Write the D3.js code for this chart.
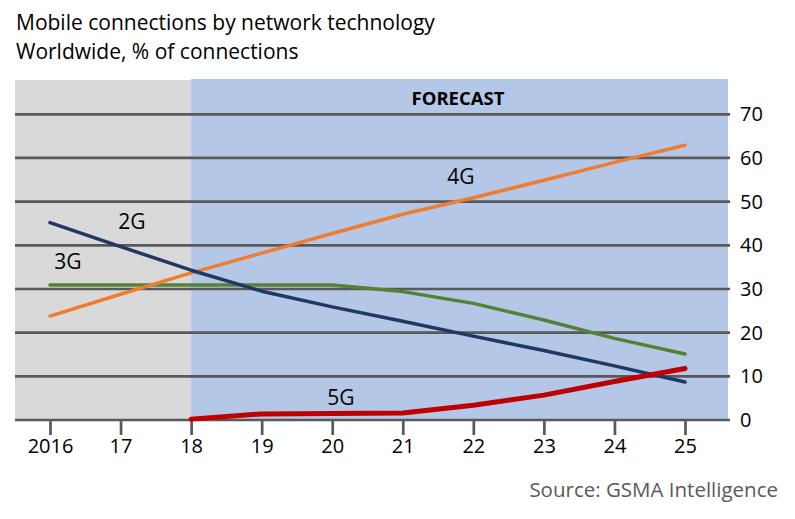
<!DOCTYPE html>
<html>
<head>
<meta charset="utf-8">
<script src="https://cdn.jsdelivr.net/npm/d3@7"></script>
<style>
  body { margin: 0; background: #fff; }
  text { font-family: "Open Sans", sans-serif; }
</style>
</head>
<body>
<div id="chart"></div>
<script>
// data
var years = [2016, 2017, 2018, 2019, 2020, 2021, 2022, 2023, 2024, 2025];
var yearLabels = ["2016", "17", "18", "19", "20", "21", "22", "23", "24", "25"];
var yTicks = [0, 10, 20, 30, 40, 50, 60, 70];

var g2 = [45.2, 39.7, 34.3, 29.5, 25.9, 22.6, 19.2, 15.9, 12.4, 8.7];
var g3 = [30.9, 30.9, 30.9, 30.9, 30.9, 29.4, 26.7, 22.9, 18.7, 15.1];
var g4 = [23.8, 28.8, 33.7, 38.2, 42.7, 47.1, 50.9, 54.9, 59.0, 62.9];
var g5 = [null, null, 0.2, 1.4, 1.5, 1.6, 3.4, 5.7, 8.8, 11.8];

var W = 795, H = 519;

var svg = d3.select("#chart").append("svg")
  .attr("width", W)
  .attr("height", H);

var x = d3.scaleLinear().domain([2016, 2025]).range([50, 685]);
var y = d3.scaleLinear().domain([0, 70]).range([420, 114.3]);

var plotLeft = 15, plotRight = 730, plotTop = 80;

// background panels: history (grey) and forecast (blue)
svg.append("rect")
  .attr("x", plotLeft).attr("y", plotTop)
  .attr("width", x(2018) - plotLeft).attr("height", y(0) - plotTop)
  .attr("fill", "#d9d9d9");

svg.append("rect")
  .attr("x", x(2018)).attr("y", plotTop - 1)
  .attr("width", 728 - x(2018)).attr("height", y(0) - plotTop + 1)
  .attr("fill", "#b4c7e7");

// gridlines
svg.selectAll(".grid")
  .data(yTicks)
  .enter().append("line")
  .attr("x1", plotLeft).attr("x2", plotRight)
  .attr("y1", function(d) { return y(d); })
  .attr("y2", function(d) { return y(d); })
  .attr("stroke", "#595959")
  .attr("stroke-width", 2.7);

// right axis labels
var yAxis = d3.axisRight(y).tickValues(yTicks).tickSize(0).tickPadding(0);
var ya = svg.append("g").attr("transform", "translate(740,0)").call(yAxis);
ya.select(".domain").remove();
ya.selectAll("text")
  .attr("font-size", 20)
  .attr("fill", "#000")
  .style("font-family", "'Open Sans', sans-serif");

// bottom axis ticks + labels
var xAxis = d3.axisBottom(x).tickValues(years)
  .tickFormat(function(d, i) { return yearLabels[i]; })
  .tickSize(15).tickPadding(4);
var xa = svg.append("g").attr("transform", "translate(0," + y(0) + ")").call(xAxis);
xa.select(".domain").remove();
xa.selectAll("line").attr("stroke", "#595959").attr("stroke-width", 2.7);
xa.selectAll("text")
  .attr("font-size", 20)
  .attr("fill", "#000")
  .style("font-family", "'Open Sans', sans-serif");

// lines
var line = d3.line()
  .defined(function(d) { return d != null; })
  .x(function(d, i) { return x(years[i]); })
  .y(function(d) { return y(d); });

var series = [
  { vals: g3, color: "#548235", width: 3.5 },
  { vals: g4, color: "#ed7d31", width: 3.5 },
  { vals: g2, color: "#1f3864", width: 3.5 },
  { vals: g5, color: "#c00000", width: 5 }
];

series.forEach(function(s) {
  svg.append("path")
    .datum(s.vals)
    .attr("d", line)
    .attr("fill", "none")
    .attr("stroke", s.color)
    .attr("stroke-width", s.width)
    .attr("stroke-linecap", "round")
    .attr("stroke-linejoin", "round");
});

// series labels
var labels = [
  { t: "2G", x: 132, y: 229 },
  { t: "3G", x: 68, y: 269 },
  { t: "4G", x: 461, y: 184 },
  { t: "5G", x: 341, y: 405 }
];
svg.selectAll(".lab")
  .data(labels)
  .enter().append("text")
  .attr("x", function(d) { return d.x; })
  .attr("y", function(d) { return d.y; })
  .attr("text-anchor", "middle")
  .attr("font-size", 21)
  .attr("fill", "#000")
  .text(function(d) { return d.t; });

svg.append("text")
  .attr("x", 458).attr("y", 105)
  .attr("text-anchor", "middle")
  .attr("font-size", 18.5)
  .attr("font-weight", "bold")
  .attr("fill", "#000")
  .text("FORECAST");

// titles
svg.append("text")
  .attr("x", 16).attr("y", 30)
  .attr("font-size", 21)
  .attr("fill", "#000")
  .text("Mobile connections by network technology");

svg.append("text")
  .attr("x", 16).attr("y", 59)
  .attr("font-size", 21)
  .attr("fill", "#000")
  .text("Worldwide, % of connections");

svg.append("text")
  .attr("x", 778).attr("y", 497)
  .attr("text-anchor", "end")
  .attr("font-size", 20.5)
  .attr("fill", "#595959")
  .text("Source: GSMA Intelligence");
</script>
</body>
</html>
